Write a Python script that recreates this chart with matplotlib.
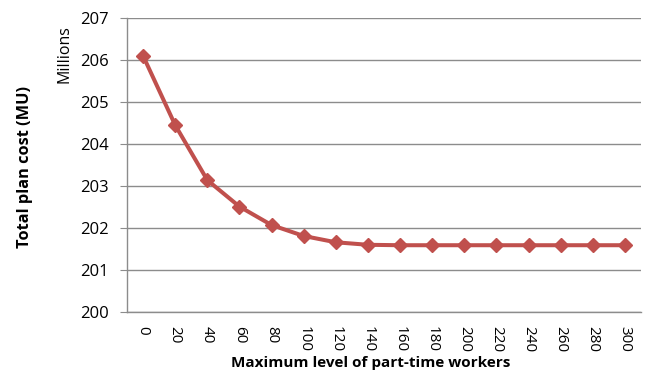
import matplotlib
matplotlib.use("Agg")
import matplotlib.pyplot as plt
import numpy as np

# cap on part-time workers vs. total plan cost (millions of MU)
max_part_time = [0, 20, 40, 60, 80, 100, 120, 140, 160, 180, 200, 220, 240, 260, 280, 300]
total_cost = [206.10, 204.45, 203.14, 202.51, 202.07, 201.81, 201.66, 201.60,
              201.59, 201.59, 201.59, 201.59, 201.59, 201.59, 201.59, 201.59]
y_ticks = [200, 201, 202, 203, 204, 205, 206, 207]

plt.rcParams['font.family'] = ['Open Sans', 'DejaVu Sans']

fig = plt.figure(figsize=(6.56, 3.82), dpi=100)
ax = fig.add_axes([127 / 656, 1 - 312 / 382, (641 - 127) / 656, (312 - 18) / 382])

x = np.arange(len(max_part_time))
ax.plot(x, total_cost, color='#C0504D', lw=2.9, marker='D', ms=7.5,
        mec='#C0504D', mfc='#C0504D', solid_joinstyle='round', zorder=3)

ax.set_xlim(-0.5, len(max_part_time) - 0.5)
ax.set_ylim(200, 207)
ax.set_yticks(y_ticks)
ax.set_yticklabels([str(v) for v in y_ticks], fontsize=12)
ax.set_xticks(x)
ax.set_xticklabels([str(v) for v in max_part_time], rotation=270, fontsize=11,
                   va='top', ha='center')

ax.grid(axis='y', color='#8C8C8C', lw=1)
ax.set_axisbelow(True)
for side in ['top', 'right']:
    ax.spines[side].set_visible(False)
for side in ['left', 'bottom']:
    ax.spines[side].set_color('#8C8C8C')
    ax.spines[side].set_linewidth(1)
ax.tick_params(axis='y', length=5, color='#8C8C8C', pad=8)
ax.tick_params(axis='x', length=0, pad=10)

fig.text(65 / 656, 1 - 54 / 382, 'Millions', rotation=90, fontsize=11.5,
         ha='center', va='center')
fig.text(25 / 656, 1 - 167 / 382, 'Total plan cost (MU)', rotation=90, fontsize=11.8,
         fontweight='bold', ha='center', va='center')
fig.text(371 / 656, 1 - 363 / 382, 'Maximum level of part-time workers', fontsize=11,
         fontweight='bold', ha='center', va='center')

fig.savefig('out.png', dpi=100)
